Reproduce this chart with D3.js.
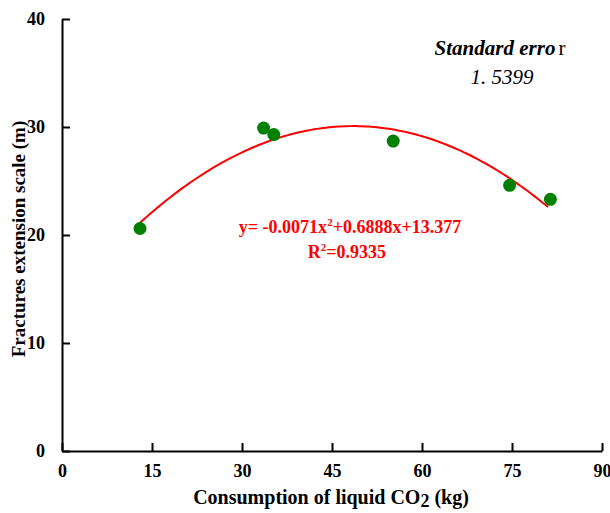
<!DOCTYPE html>
<html>
<head>
<meta charset="utf-8">
<script src="https://cdn.jsdelivr.net/npm/d3@7"></script>
<style>
  body { margin: 0; background: #fff; }
</style>
</head>
<body>
<svg id="chart" width="610" height="513"></svg>
<script>
// measured points
var co2 = [13, 33.6, 35.3, 55.2, 74.6, 81.4]
var scale = [20.6, 29.9, 29.3, 28.7, 24.6, 23.3]
// trendline coefficients (a x^2 + b x + c), as printed on the chart
var fitCoef = [-0.0071, 0.6888, 13.377]
var fitRange = [13, 81.4]
var xTicks = [0, 15, 30, 45, 60, 75, 90]
var yTicks = [0, 10, 20, 30, 40]

var serif = '"Liberation Serif", "Times New Roman", "DejaVu Serif", serif'

var svg = d3.select('#chart')
var x = d3.scaleLinear().domain([0, 90]).range([62, 602])
var y = d3.scaleLinear().domain([0, 40]).range([451, 19])

// axes - ticks point inward
var xAxis = svg.append('g')
  .attr('transform', 'translate(0,' + y(0) + ')')
  .call(d3.axisBottom(x).tickValues(xTicks).tickSize(-8).tickSizeOuter(0).tickPadding(12))
var yAxis = svg.append('g')
  .attr('transform', 'translate(' + x(0) + ',0)')
  .call(d3.axisLeft(y).tickValues(yTicks).tickSize(-8).tickSizeOuter(0).tickPadding(17))

;[xAxis, yAxis].forEach(function(a) {
  a.select('.domain').attr('stroke', '#000').attr('stroke-width', 2)
  a.selectAll('.tick line').attr('stroke', '#000').attr('stroke-width', 2)
  a.selectAll('.tick text')
    .attr('fill', '#000')
    .style('font-family', serif)
    .style('font-size', '18px')
    .style('font-weight', 'bold')
})
xAxis.selectAll('.tick text').attr('dy', '0.8em')

// fitted curve
var fitX = d3.range(fitRange[0], fitRange[1] + 0.01, 0.5)
var line = d3.line()
  .x(d => x(d))
  .y(d => y(fitCoef[0] * d * d + fitCoef[1] * d + fitCoef[2]))
svg.append('path')
  .datum(fitX)
  .attr('d', line)
  .attr('fill', 'none')
  .attr('stroke', '#ff0000')
  .attr('stroke-width', 2)

// points
svg.append('g')
  .selectAll('circle')
  .data(co2)
  .join('circle')
  .attr('cx', d => x(d))
  .attr('cy', (d, i) => y(scale[i]))
  .attr('r', 6.5)
  .attr('fill', '#008000')

// equation
var eq = svg.append('text')
  .attr('x', 350).attr('y', 233)
  .attr('text-anchor', 'middle')
  .attr('fill', '#ff0000')
  .style('font-family', serif)
  .style('font-size', '18px')
  .style('font-weight', 'bold')
eq.append('tspan').text('y= -0.0071x')
eq.append('tspan').text('2').attr('dy', -7).style('font-size', '11px')
eq.append('tspan').text('+0.6888x+13.377').attr('dy', 7)

var r2 = svg.append('text')
  .attr('x', 347).attr('y', 258)
  .attr('text-anchor', 'middle')
  .attr('fill', '#ff0000')
  .style('font-family', serif)
  .style('font-size', '18px')
  .style('font-weight', 'bold')
r2.append('tspan').text('R')
r2.append('tspan').text('2').attr('dy', -7).style('font-size', '11px')
r2.append('tspan').text('=0.9335').attr('dy', 7)

// standard error note
var se = svg.append('text')
  .attr('x', 500).attr('y', 55)
  .attr('text-anchor', 'middle')
  .style('font-family', serif)
  .style('font-size', '21px')
  .style('font-style', 'italic')
  .style('font-weight', 'bold')
se.append('tspan').text('Standard erro')
se.append('tspan').text('r').attr('dx', 3).style('font-weight', 'normal').style('font-style', 'normal')
svg.append('text')
  .attr('x', 502).attr('y', 84)
  .attr('text-anchor', 'middle')
  .style('font-family', serif)
  .style('font-size', '21px')
  .style('font-style', 'italic')
  .text('1. 5399')

// axis titles
var xt = svg.append('text')
  .attr('x', 331).attr('y', 504)
  .attr('text-anchor', 'middle')
  .style('font-family', serif)
  .style('font-size', '20px')
  .style('font-weight', 'bold')
xt.append('tspan').text('Consumption of liquid CO')
xt.append('tspan').text('2').attr('dy', 3).style('font-size', '18px')
xt.append('tspan').text(' (kg)').attr('dy', -3)

svg.append('text')
  .attr('transform', 'translate(25,239) rotate(-90)')
  .attr('text-anchor', 'middle')
  .style('font-family', serif)
  .style('font-size', '19px')
  .style('font-weight', 'bold')
  .text('Fractures extension scale (m)')
</script>
</body>
</html>
